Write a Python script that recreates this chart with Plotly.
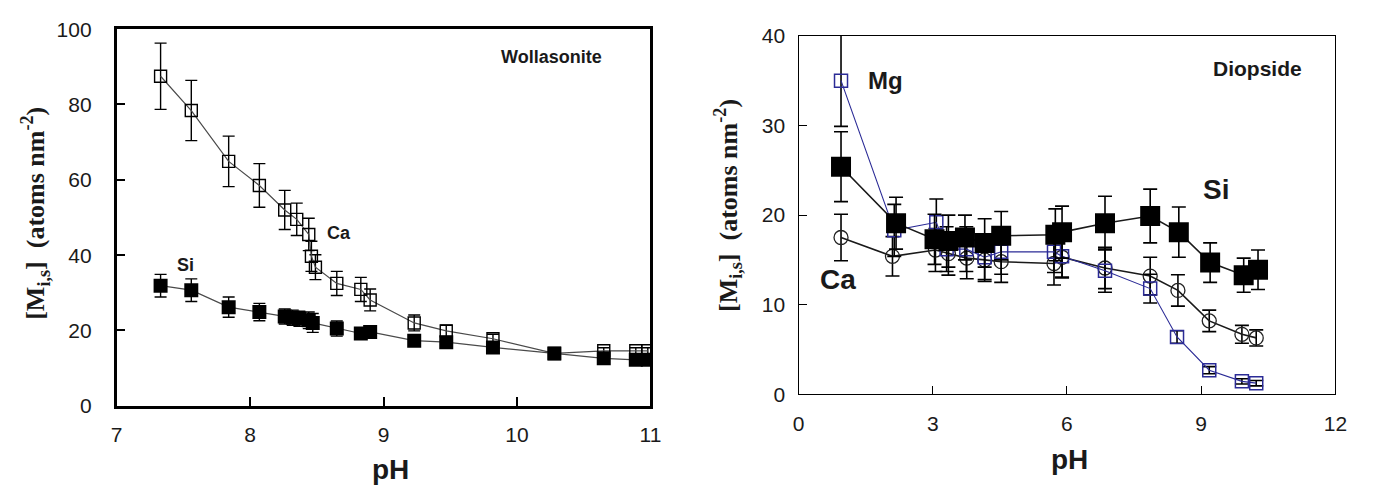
import plotly.graph_objects as go

# ---------------- Wollastonite (left) ----------------
wol_ca_ph = [7.33, 7.56, 7.84, 8.07, 8.26, 8.35, 8.44, 8.46, 8.49, 8.65, 8.83, 8.90, 9.23, 9.47, 9.82, 10.28, 10.65, 10.89, 10.98]
wol_ca = [87.5, 78.4, 64.9, 58.5, 52.0, 49.5, 45.5, 39.7, 36.8, 32.5, 30.9, 28.1, 22.0, 19.9, 17.8, 13.9, 14.6, 14.6, 14.6]
wol_ca_err = [8.8, 8.0, 6.7, 5.8, 5.2, 4.3, 4.3, 4.0, 3.3, 3.2, 3.2, 2.9, 2.1, 1.5, 1.2, 0.8, 0.8, 0.8, 0.8]

wol_si_ph = [7.33, 7.56, 7.84, 8.07, 8.26, 8.32, 8.37, 8.44, 8.47, 8.65, 8.83, 8.90, 9.23, 9.47, 9.82, 10.28, 10.65, 10.89, 10.98]
wol_si = [31.9, 30.7, 26.2, 24.9, 23.7, 23.4, 23.1, 22.7, 22.0, 20.5, 19.2, 19.6, 17.3, 16.9, 15.5, 13.9, 12.6, 12.2, 12.2]
wol_si_err = [3.0, 3.0, 2.7, 2.3, 2.0, 2.0, 2.0, 2.2, 2.5, 2.0, 1.0, 1.0, 0.8, 0.8, 0.8, 0.8, 0.8, 0.8, 0.8]

# ---------------- Diopside (right) ----------------
dio_ca_ph = [0.95, 2.10, 3.06, 3.35, 3.76, 4.16, 4.53, 5.71, 5.89, 6.85, 7.86, 8.48, 9.18, 9.91, 10.23]
dio_ca = [17.5, 15.4, 16.1, 15.7, 15.2, 15.0, 14.8, 14.6, 15.3, 14.1, 13.2, 11.6, 8.2, 6.7, 6.3]
dio_ca_err = [2.6, 2.2, 2.4, 2.4, 2.3, 2.4, 2.3, 2.4, 2.3, 2.3, 2.1, 1.75, 1.2, 1.0, 0.9]

dio_mg_ph = [0.95, 2.14, 3.08, 3.31, 3.75, 4.16, 4.53, 5.71, 5.89, 6.85, 7.86, 8.46, 9.18, 9.91, 10.23]
dio_mg = [35.0, 18.3, 19.2, 16.2, 16.2, 15.3, 15.9, 15.9, 15.4, 13.8, 11.8, 6.4, 2.7, 1.45, 1.25]
dio_mg_err = [5.1, 2.9, 2.6, 2.5, 2.5, 2.5, 2.5, 2.3, 2.3, 2.4, 1.6, 0.7, 0.4, 0.3, 0.3]

dio_si_ph = [0.95, 2.18, 3.04, 3.35, 3.72, 4.16, 4.53, 5.74, 5.89, 6.85, 7.86, 8.50, 9.20, 9.95, 10.27]
dio_si = [25.4, 19.1, 17.3, 17.1, 17.5, 16.9, 17.7, 17.8, 18.1, 19.1, 19.9, 18.1, 14.7, 13.3, 13.9]
dio_si_err = [3.9, 2.9, 2.8, 2.9, 2.5, 2.7, 2.7, 2.9, 2.9, 3.0, 3.0, 2.8, 2.2, 1.9, 2.2]

BLUE = "#2b2b96"
TICKFONT = dict(family="Liberation Sans, Arial, sans-serif", size=21, color="#1a1a1a")
LBL = "Liberation Sans, Arial, sans-serif"
SERIF = "Liberation Serif, Times New Roman, serif"

fig = go.Figure()

# Left panel traces
fig.add_trace(go.Scatter(
    x=wol_ca_ph, y=wol_ca, mode="lines+markers", xaxis="x", yaxis="y",
    line=dict(color="#4a4a4a", width=1.2),
    marker=dict(symbol="square-open", size=12, color="black", line=dict(width=1.4)),
    error_y=dict(type="data", array=wol_ca_err, color="black", thickness=1.4, width=6),
    showlegend=False))
fig.add_trace(go.Scatter(
    x=wol_si_ph, y=wol_si, mode="lines+markers", xaxis="x", yaxis="y",
    line=dict(color="#4a4a4a", width=1.2),
    marker=dict(symbol="square", size=14, color="black"),
    error_y=dict(type="data", array=wol_si_err, color="black", thickness=1.4, width=6),
    showlegend=False))

# Right panel traces
fig.add_trace(go.Scatter(
    x=dio_ca_ph, y=dio_ca, mode="lines+markers", xaxis="x2", yaxis="y2",
    line=dict(color="#1a1a1a", width=1.6),
    marker=dict(symbol="circle-open", size=14, color="#222", line=dict(width=1.3)),
    error_y=dict(type="data", array=dio_ca_err, color="black", thickness=1.6, width=7),
    showlegend=False))
fig.add_trace(go.Scatter(
    x=dio_mg_ph, y=dio_mg, mode="lines+markers", xaxis="x2", yaxis="y2",
    line=dict(color=BLUE, width=1.1),
    marker=dict(symbol="square-open", size=13, color=BLUE, line=dict(width=1.5)),
    error_y=dict(type="data", array=dio_mg_err, color="black", thickness=1.6, width=7),
    showlegend=False))
fig.add_trace(go.Scatter(
    x=dio_si_ph, y=dio_si, mode="lines+markers", xaxis="x2", yaxis="y2",
    line=dict(color="#1a1a1a", width=1.6),
    marker=dict(symbol="square", size=20, color="black"),
    error_y=dict(type="data", array=dio_si_err, color="black", thickness=1.6, width=7),
    showlegend=False))

W, H = 1379, 495
def fx(px): return px / W
def fy(py): return 1 - py / H

axis_common = dict(showgrid=False, zeroline=False, ticks="inside", mirror=True,
                   showline=True, linecolor="black", tickcolor="black",
                   tickfont=TICKFONT)

fig.update_layout(
    width=W, height=H, margin=dict(l=0, r=0, t=0, b=0),
    paper_bgcolor="white", plot_bgcolor="white",
    xaxis=dict(domain=[fx(112), fx(653)], range=[7, 11], tickvals=[7, 8, 9, 10, 11],
               anchor="y", linewidth=2.5, ticklen=9, tickwidth=1.5, ticklabelstandoff=8,
               **axis_common),
    yaxis=dict(domain=[fy(413), fy(18)], range=[0, 100], tickvals=[0, 20, 40, 60, 80, 100],
               anchor="x", linewidth=2.5, ticklen=9, tickwidth=1.5, ticklabelstandoff=18,
               **axis_common),
    xaxis2=dict(domain=[fx(803), fx(1347)], range=[0, 12], tickvals=[0, 3, 6, 9, 12],
                anchor="y2", linewidth=1.4, ticklen=8, tickwidth=1.3, ticklabelstandoff=10,
                **axis_common),
    yaxis2=dict(domain=[fy(401), fy(25)], range=[0, 40], tickvals=[0, 10, 20, 30, 40],
                anchor="x2", linewidth=1.4, ticklen=8, tickwidth=1.3, ticklabelstandoff=8,
                **axis_common),
)

C = dict(xanchor="center", yanchor="middle", showarrow=False)
ann = []
# axis titles
ann.append(dict(text="<b>pH</b>", x=fx(390), y=fy(480), xref="paper", yref="paper",
                font=dict(family=LBL, size=28, color="#1a1a1a"), **C))
ann.append(dict(text="<b>pH</b>", x=fx(1078), y=fy(469), xref="paper", yref="paper",
                font=dict(family=LBL, size=28, color="#1a1a1a"), **C))
ann.append(dict(text="<b>[M<sub>i,s</sub>]  (atoms nm<sup>-2</sup>)</b>", x=fx(30), y=fy(211),
                xref="paper", yref="paper", textangle=-90,
                font=dict(family=SERIF, size=26, color="#1a1a1a"), **C))
ann.append(dict(text="<b>[M<sub>i,s</sub>]  (atoms nm<sup>-2</sup>)</b>", x=fx(731), y=fy(203),
                xref="paper", yref="paper", textangle=-90,
                font=dict(family=SERIF, size=26, color="#1a1a1a"), **C))
# in-plot labels, left
ann.append(dict(text="<b>Wollasonite</b>", x=10.26, y=92.7, xref="x", yref="y",
                font=dict(family=LBL, size=18, color="#1a1a1a"), **C))
ann.append(dict(text="<b>Ca</b>", x=8.67, y=45.9, xref="x", yref="y",
                font=dict(family=LBL, size=18, color="#1a1a1a"), **C))
ann.append(dict(text="<b>Si</b>", x=7.52, y=37.3, xref="x", yref="y",
                font=dict(family=LBL, size=18, color="#1a1a1a"), **C))
# in-plot labels, right
ann.append(dict(text="<b>Diopside</b>", x=10.25, y=36.3, xref="x2", yref="y2",
                font=dict(family=LBL, size=21, color="#1a1a1a"), **C))
ann.append(dict(text="<b>Mg</b>", x=1.94, y=35.0, xref="x2", yref="y2",
                font=dict(family=LBL, size=24, color="#1a1a1a"), **C))
ann.append(dict(text="<b>Si</b>", x=9.34, y=22.9, xref="x2", yref="y2",
                font=dict(family=LBL, size=28, color="#1a1a1a"), **C))
ann.append(dict(text="<b>Ca</b>", x=0.88, y=12.8, xref="x2", yref="y2",
                font=dict(family=LBL, size=28, color="#1a1a1a"), **C))
fig.update_layout(annotations=ann)

fig.write_html("out.html")
